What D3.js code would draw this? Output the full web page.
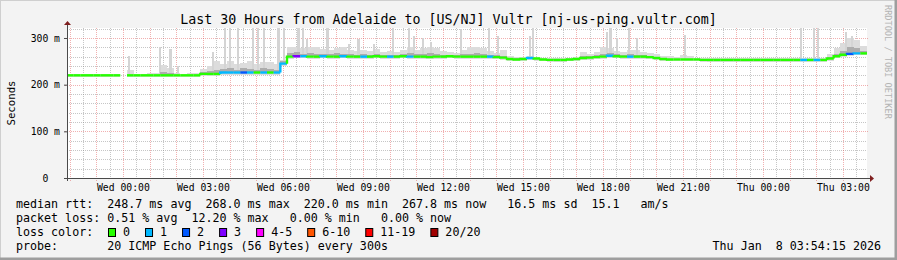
<!DOCTYPE html>
<html>
<head>
<meta charset="utf-8">
<script src="https://cdn.jsdelivr.net/npm/d3@7"></script>
<style>
	body { margin: 0; background: #f3f3f3; }
	svg text { font-family: "DejaVu Sans Mono", monospace; white-space: pre; fill: #000; }
</style>
</head>
<body>
<div id="chart"></div>
<script>
// Time window of the graph (30 hours ending at the "now" stamp)
const startTime = new Date(2026, 0, 6, 21, 54, 15);
const endTime = new Date(2026, 0, 8, 3, 54, 15);
const stepMinutes = 15;

// median rtt per 15 min sample, ms (null = no data)
const median = [
	220,220,220,220,220,220,220,220, null,
	220,220,220,220,220,220,220,220,220,220,220,
	223,223,223,
	226,226,226,226,226,226,226,226,226,
	245,
	260,261,261,260,260,261,260,260,261,260,260,260,260,261,260,260,260,261,260,260,260,259,260,260,261,260,260,
	260,260,260,260,259,
	258,255,254,255,257,256,254,253,253,253,254,255,257,258,259,260,262,261,260,260,260,260,259,257,255,
	254,254,254,254,254,
	253,253,253,253,253,253,253,253,253,253,253,253,253,253,253,253,253,253,253,
	256,261,264,266,267,267
];

// pings lost (out of 20) per sample
const loss = [
	0,0,0,0,0,0,0,0,0,0, 0,0,0,0,0,0,0,0,0,0,
	0,0,0,1,1,1,2,1,0,1, 0,1,1,0,3,1,0,0,1,0,
	0,1,0,0,1,0,0,0,1,0, 0,1,0,0,0,0,0,0,0,0,
	0,0,0,1,0,0,0,0,0,1, 0,0,0,0,0,0,0,0,0,0,
	0,1,0,0,1,0,0,0,0,0, 0,0,0,0,0,0,0,0,0,0,
	0,0,0,0,0,0,0,0,0,0, 1,0,1,0,0,0,0,2,1,0
];

// smoke: upper edge of the light band and of the darker inner band, ms
const smokeHi = [
	223,222,222,222,222,222,222,222, null,
	231,222,222,224,225,243,236,224,222,225,226,
	234,240,251,245,250,245,247,250,245,248,248,245,252,
	280,281,278,280,280,276,275,278,280,275,272,275,272,276,270,272,270,275,280,275,278,280,278,272,270,268,275,
	280,280,278,272,268,275,262,260,260,262,260,258,257,257,257,258,260,270,265,270,280,278,272,270,275,275,270,268,265,262,
	262,260,263,262,258,257,258,257,257,258,257,258,257,257,257,258,257,257,257,257,258,257,258,257,
	265,278,290,300,296,282
];
const smokeMid = [
	221,221,221,221,221,221,221,221, null,
	221,221,221,221,221,228,224,221,221,221,221,
	228,230,232,233,235,232,235,234,232,236,234,232,250,
	268,270,266,268,266,265,266,268,266,265,264,266,264,265,264,264,263,265,268,265,266,268,266,264,264,263,265,
	266,267,266,264,263,262,258,257,257,259,258,256,255,255,255,256,257,261,261,263,266,268,265,264,265,264,263,262,260,257,
	256,256,256,256,256,255,255,255,255,255,255,255,255,255,255,255,255,255,255,255,255,255,255,255,
	259,266,272,280,278,272
];

// single-sample spikes: hours after start, max ping (ms)
const spikeHours = [2.29,3.45,3.84,4.13,5.44,5.87,6.08,6.38,6.94,7.13,7.35,7.89,8.10,8.64,8.81,8.96,
	9.73,10.52,10.89,11.46,12.19,12.79,12.98,13.31,13.61,14.72,15.77,16.13,17.31,17.42,
	20.21,20.34,20.59,21.02,21.34,23.14,27.49,27.98,28.13,29.18,29.40];
const spikeTop = [262,280,276,240,269,321,321,321,321,321,321,321,321,321,321,298,
	321,287,298,287,321,321,305,301,291,319,321,305,305,321,
	312,321,300,321,301,306,321,321,321,313,305];

const yTicks = [0, 100, 200, 300];
const yMax = 321.4;
const lossLabels = ['0', '1', '2', '3', '4-5', '6-10', '11-19', '20/20'];
const lossColors = ['#26ff00', '#00b8ff', '#0059ff', '#7e00ff', '#ff00ff', '#ff5500', '#ff0000', '#a10000'];

const titleText = 'Last 30 Hours from Adelaide to [US/NJ] Vultr [nj-us-ping.vultr.com]';
const legendRows = [
	'median rtt:  248.7 ms avg  268.0 ms max  220.0 ms min  267.8 ms now   16.5 ms sd  15.1   am/s',
	'packet loss: 0.51 % avg  12.20 % max   0.00 % min   0.00 % now',
	'loss color:',
	'probe:       20 ICMP Echo Pings (56 Bytes) every 300s'
];
const stampText = 'Thu Jan  8 03:54:15 2026';

function lossBucket(n) {
	if (n <= 3) return n;
	if (n <= 5) return 4;
	if (n <= 10) return 5;
	if (n <= 19) return 6;
	return 7;
}

const width = 897, height = 260;
const margin = {top: 28, right: 30, bottom: 82, left: 67};

const svg = d3.select('#chart').append('svg')
	.attr('width', width)
	.attr('height', height);

// background + shaded frame
svg.append('rect').attr('width', width).attr('height', height).attr('fill', '#f3f3f3');
svg.append('path').attr('d', `M0,${height}V0H${width}`).attr('fill', 'none').attr('stroke', '#cfcfcf').attr('stroke-width', 2);
svg.append('path').attr('d', `M0,${height - 1}H${width - 1}V0`).attr('fill', 'none').attr('stroke', '#9e9e9e').attr('stroke-width', 3);

const x = d3.scaleTime()
	.domain([startTime, endTime])
	.range([margin.left, width - margin.right]);
const y = d3.scaleLinear()
	.domain([0, yMax])
	.range([height - margin.bottom, margin.top]);

const x0 = x.range()[0], x1 = x.range()[1];
const y0 = y.range()[0], y1 = y.range()[1];

svg.append('rect')
	.attr('x', x0).attr('y', y1)
	.attr('width', x1 - x0).attr('height', y0 - y1)
	.attr('fill', '#fff');

// grid
const grid = svg.append('g').attr('shape-rendering', 'crispEdges');
const minorY = d3.range(20, yMax, 20).filter(v => v % 100 !== 0);
const majorY = yTicks.filter(v => v > 0);
const halfHours = d3.timeMinute.every(30).range(startTime, endTime).filter(d => d.getMinutes() === 30);
const hours = d3.timeHour.range(startTime, endTime);
const gridColor = 'rgba(128,128,128,0.45)';
const mgridColor = 'rgba(224,80,80,0.45)';

grid.selectAll('.gy').data(minorY).enter().append('line')
	.attr('x1', x0).attr('x2', x1)
	.attr('y1', d => Math.round(y(d)) + 0.5).attr('y2', d => Math.round(y(d)) + 0.5)
	.attr('stroke', gridColor).attr('stroke-dasharray', '1,1');
grid.selectAll('.gx').data(halfHours).enter().append('line')
	.attr('x1', d => Math.round(x(d)) + 0.5).attr('x2', d => Math.round(x(d)) + 0.5)
	.attr('y1', y1).attr('y2', y0)
	.attr('stroke', gridColor).attr('stroke-dasharray', '1,1');
grid.selectAll('.my').data(majorY).enter().append('line')
	.attr('x1', x0 - 2).attr('x2', x1 + 2)
	.attr('y1', d => Math.round(y(d)) + 0.5).attr('y2', d => Math.round(y(d)) + 0.5)
	.attr('stroke', mgridColor).attr('stroke-dasharray', '1,1');
grid.selectAll('.mx').data(hours).enter().append('line')
	.attr('x1', d => Math.round(x(d)) + 0.5).attr('x2', d => Math.round(x(d)) + 0.5)
	.attr('y1', y1).attr('y2', y0 + 3)
	.attr('stroke', mgridColor).attr('stroke-dasharray', '1,1');

// samples
const step = stepMinutes * 60 * 1000;
const samples = median.map((m, i) => ({
	t0: new Date(+startTime + i * step),
	t1: new Date(Math.min(+startTime + (i + 1) * step, +endTime)),
	med: m,
	prev: i > 0 ? median[i - 1] : null,
	hi: smokeHi[i],
	mid: smokeMid[i],
	loss: loss[i]
})).filter(d => d.med !== null);

const plot = svg.append('g').attr('shape-rendering', 'crispEdges');

// light smoke
plot.selectAll('.smoke-hi').data(samples).enter().append('rect')
	.attr('x', d => x(d.t0))
	.attr('width', d => x(d.t1) - x(d.t0))
	.attr('y', d => y(d.hi))
	.attr('height', d => y(d.med) - y(d.hi) + 2)
	.attr('fill', '#dcdcdc');

// spikes
const spikes = spikeHours.map((h, i) => ({
	t0: new Date(+startTime + h * 3600e3),
	t1: new Date(+startTime + h * 3600e3 + 5 * 60e3),
	top: spikeTop[i],
	base: median[Math.min(median.length - 1, Math.floor(h * 60 / stepMinutes))]
}));
plot.selectAll('.spike').data(spikes).enter().append('rect')
	.attr('x', d => x(d.t0))
	.attr('width', d => x(d.t1) - x(d.t0))
	.attr('y', d => y(d.top))
	.attr('height', d => y(d.base) - y(d.top))
	.attr('fill', '#d4d4d4');

// darker inner smoke
plot.selectAll('.smoke-mid').data(samples).enter().append('rect')
	.attr('x', d => x(d.t0))
	.attr('width', d => x(d.t1) - x(d.t0))
	.attr('y', d => y(d.mid))
	.attr('height', d => Math.max(0, y(d.med) - y(d.mid)))
	.attr('fill', '#adadad');

// median line, coloured by loss
svg.append('g').selectAll('path').data(samples).enter().append('path')
	.attr('d', d => `M${x(d.t0)},${y(d.prev === null ? d.med : d.prev)}V${y(d.med)}H${x(d.t1)}`)
	.attr('fill', 'none')
	.attr('stroke', d => lossColors[lossBucket(d.loss)])
	.attr('stroke-width', 2.4);

// axes
const yAxis = d3.axisLeft(y)
	.tickValues(yTicks)
	.tickSize(3)
	.tickPadding(4)
	.tickFormat(d => d === 0 ? '0  ' : `${d} m`);
svg.append('g')
	.attr('transform', `translate(${x0},0)`)
	.call(yAxis)
	.call(g => g.select('.domain').remove())
	.call(g => g.selectAll('line').attr('stroke', '#4a4a4a'))
	.call(g => g.selectAll('text').attr('font-size', '9.75px').attr('font-family', '"DejaVu Sans Mono", monospace'));

const xAxis = d3.axisBottom(x)
	.ticks(d3.timeHour.every(3))
	.tickSize(0)
	.tickPadding(6)
	.tickFormat(d3.timeFormat('%a %H:%M'));
svg.append('g')
	.attr('transform', `translate(0,${y0})`)
	.call(xAxis)
	.call(g => g.select('.domain').remove())
	.call(g => g.selectAll('text').attr('font-size', '9.75px').attr('font-family', '"DejaVu Sans Mono", monospace'));

svg.append('line').attr('x1', x0 + 0.5).attr('x2', x0 + 0.5).attr('y1', y0 + 3).attr('y2', y1 - 4)
	.attr('stroke', '#4a4a4a');
svg.append('line').attr('x1', x0 - 3).attr('x2', x1 + 4).attr('y1', y0 + 0.5).attr('y2', y0 + 0.5)
	.attr('stroke', '#4a4a4a');
svg.append('path')
	.attr('d', `M${x0 - 3},${y1 - 3}L${x0 + 0.5},${y1 - 7}L${x0 + 4},${y1 - 3}Z`)
	.attr('fill', '#7f1f1f');
svg.append('path')
	.attr('d', `M${x1 + 3},${y0 - 3}L${x1 + 7},${y0 + 0.5}L${x1 + 3},${y0 + 4}Z`)
	.attr('fill', '#7f1f1f');

// title and axis label
svg.append('text')
	.attr('x', width / 2).attr('y', 23.5)
	.attr('text-anchor', 'middle')
	.attr('font-size', '13.3px')
	.text(titleText);

svg.append('text')
	.attr('transform', `translate(15,${(y0 + y1) / 2}) rotate(-90)`)
	.attr('text-anchor', 'middle')
	.attr('font-size', '10.7px')
	.text('Seconds');

svg.append('text')
	.attr('transform', 'translate(885,5) rotate(90)')
	.attr('font-size', '8.6px')
	.style('fill', '#b4b4b4')
	.text('RRDTOOL / TOBI OETIKER');

// legend
const legend = svg.append('g').attr('font-size', '11.66px');
legend.selectAll('.row').data(legendRows).enter().append('text')
	.attr('x', 16)
	.attr('y', (d, i) => 208 + i * 14)
	.text(d => d);

legend.append('text')
	.attr('x', 881).attr('y', 208 + 3 * 14)
	.attr('text-anchor', 'end')
	.text(stampText);

let cursor = 108;
lossLabels.forEach((lab, i) => {
	legend.append('rect')
		.attr('x', cursor + 0.5).attr('y', 228.5)
		.attr('width', 7).attr('height', 8)
		.attr('fill', lossColors[i])
		.attr('stroke', '#000');
	const t = legend.append('text')
		.attr('x', cursor + 15).attr('y', 236)
		.text(lab);
	cursor = cursor + 15 + t.node().getComputedTextLength() + 15;
});
</script>
</body>
</html>
